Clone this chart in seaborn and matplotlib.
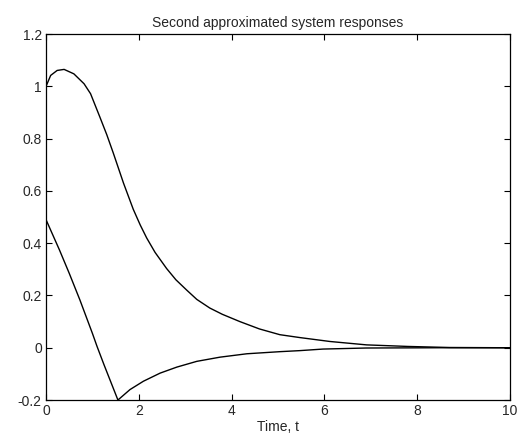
import matplotlib
matplotlib.use("Agg")
import matplotlib.pyplot as plt
import seaborn as sns
import pandas as pd

# first response
t_upper = [0, 0.1, 0.24, 0.39, 0.6, 0.82, 0.96, 1.16, 1.31, 1.45, 1.67, 1.88,
           2.03, 2.17, 2.35, 2.6, 2.8, 3.03, 3.25, 3.53, 3.8, 4.18, 4.6, 5.04,
           5.47, 6.12, 6.91, 7.8, 8.7, 10]
y_upper = [1.0, 1.042, 1.061, 1.065, 1.048, 1.01, 0.972, 0.883, 0.815, 0.745,
           0.63, 0.53, 0.47, 0.42, 0.365, 0.303, 0.26, 0.221, 0.185, 0.152,
           0.128, 0.1, 0.072, 0.05, 0.039, 0.024, 0.011, 0.005, 0.001, 0.0]

# second response
t_lower = [0, 0.29, 0.5, 0.73, 1.0, 1.1, 1.25, 1.55, 1.81, 2.1, 2.46, 2.82,
           3.25, 3.75, 4.33, 5.04, 5.47, 5.97, 6.9, 8.5, 10]
y_lower = [0.49, 0.374, 0.285, 0.183, 0.055, 0.005, -0.065, -0.2, -0.16,
           -0.128, -0.097, -0.074, -0.052, -0.036, -0.023, -0.015, -0.011,
           -0.005, -0.001, 0.0, 0.0]

x_ticks = [0, 2, 4, 6, 8, 10]
y_ticks = [-0.2, 0, 0.2, 0.4, 0.6, 0.8, 1, 1.2]

sns.set_style("white")
plt.rcParams["font.family"] = ["Liberation Sans", "DejaVu Sans"]
plt.rcParams["xtick.direction"] = "in"
plt.rcParams["ytick.direction"] = "in"

df_up = pd.DataFrame({"t": t_upper, "y": y_upper})
df_lo = pd.DataFrame({"t": t_lower, "y": y_lower})

fig = plt.figure(figsize=(5.23, 4.43), dpi=100)
ax = fig.add_axes([0.088, 0.097, 0.887, 0.826])

sns.lineplot(data=df_up, x="t", y="y", ax=ax, color="black", linewidth=1.0,
             sort=False, estimator=None)
sns.lineplot(data=df_lo, x="t", y="y", ax=ax, color="black", linewidth=1.0,
             sort=False, estimator=None)

ax.set_xlim(0, 10)
ax.set_ylim(-0.2, 1.2)
ax.set_xticks(x_ticks)
ax.set_xticklabels([str(v) for v in x_ticks])
ax.set_yticks(y_ticks)
ax.set_yticklabels(["-0.2", "0", "0.2", "0.4", "0.6", "0.8", "1", "1.2"])
ax.tick_params(axis="both", labelsize=10, length=4, width=0.8, color="black",
               top=True, right=True, bottom=True, left=True, pad=3)
for s in ax.spines.values():
    s.set_visible(True)
    s.set_color("black")
    s.set_linewidth(0.9)

ax.set_title("Second approximated system responses", fontsize=10, pad=5)
ax.set_xlabel("Time, t", fontsize=10, labelpad=1)
ax.set_ylabel("")

fig.savefig("out.png", dpi=100)
